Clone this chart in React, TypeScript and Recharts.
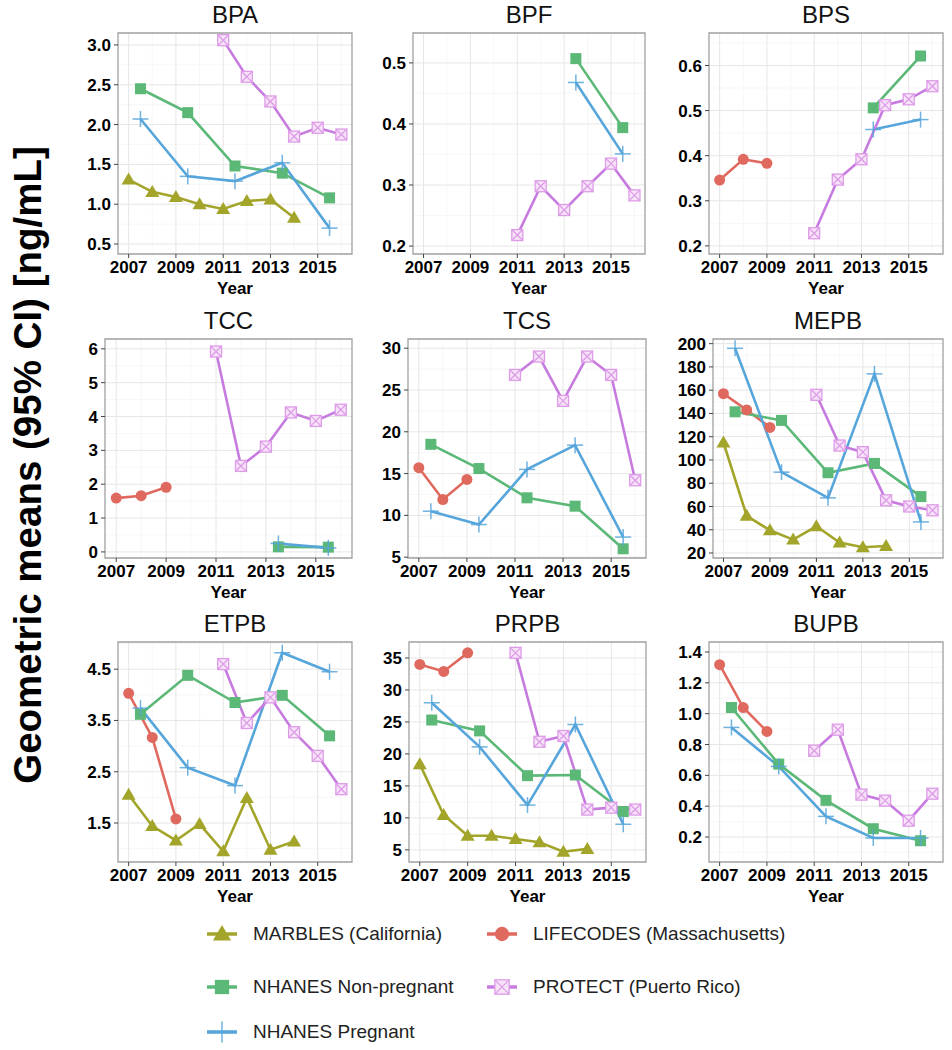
import React from 'react';
import { LineChart, Line, XAxis, YAxis, CartesianGrid, ReferenceArea } from 'recharts';

// x positions for each study
const marblesYears = [2007, 2008, 2009, 2010, 2011, 2012, 2013, 2014];
const lifecodesYears = [2007, 2008, 2009];
const nhanesYears = [2007.5, 2009.5, 2011.5, 2013.5, 2015.5];
const protectYears = [2011, 2012, 2013, 2014, 2015, 2016];

const yearTicks = [2007, 2009, 2011, 2013, 2015];
const yearMinor = [2008, 2010, 2012, 2014, 2016];
const xDomain: [number, number] = [2006.55, 2016.45];

// BPA
const bpaMarbles = [1.31, 1.155, 1.09, 1.0, 0.94, 1.04, 1.06, 0.83];
const bpaNhanesNP = [2.45, 2.15, 1.48, 1.39, 1.08];
const bpaNhanesP = [2.07, 1.35, 1.29, 1.52, 0.7];
const bpaProtect = [3.06, 2.6, 2.29, 1.85, 1.96, 1.875];

// BPF
const bpfNhanesNP = [null, null, null, 0.507, 0.394];
const bpfNhanesP = [null, null, null, 0.468, 0.351];
const bpfProtect = [0.218, 0.298, 0.259, 0.298, 0.335, 0.283];

// BPS
const bpsLifecodes = [0.346, 0.392, 0.383];
const bpsNhanesNP = [null, null, null, 0.506, 0.621];
const bpsNhanesP = [null, null, null, 0.458, 0.48];
const bpsProtect = [0.228, 0.347, 0.392, 0.512, 0.525, 0.554];

// TCC
const tccLifecodes = [1.59, 1.66, 1.91];
const tccNhanesNP = [null, null, null, 0.15, 0.14];
const tccNhanesP = [null, null, null, 0.25, 0.12];
const tccProtect = [5.92, 2.54, 3.11, 4.12, 3.87, 4.2];

// TCS
const tcsLifecodes = [15.7, 11.9, 14.3];
const tcsNhanesNP = [18.5, 15.6, 12.1, 11.1, 6.0];
const tcsNhanesP = [10.5, 8.9, 15.5, 18.4, 7.4];
const tcsProtect = [26.8, 29.0, 23.7, 29.0, 26.8, 14.2];

// MEPB
const mepbMarbles = [115, 52, 39.5, 31.5, 43, 29, 25, 26];
const mepbLifecodes = [157, 143, 128];
const mepbNhanesNP = [141.4, 134, 89, 97, 68.5];
const mepbNhanesP = [196, 89.5, 67.4, 174, 46.7];
const mepbProtect = [156, 112.4, 106.7, 65.3, 60, 56.7];

// ETPB
const etpbMarbles = [2.05, 1.44, 1.16, 1.48, 0.95, 1.99, 0.98, 1.14];
const etpbLifecodes = [4.03, 3.17, 1.58];
const etpbNhanesNP = [3.62, 4.38, 3.85, 3.99, 3.2];
const etpbNhanesP = [3.74, 2.58, 2.23, 4.82, 4.45];
const etpbProtect = [4.6, 3.45, 3.95, 3.27, 2.81, 2.16];

// PRPB
const prpbMarbles = [18.4, 10.45, 7.2, 7.2, 6.7, 6.2, 4.7, 5.15];
const prpbLifecodes = [34.0, 32.9, 35.8];
const prpbNhanesNP = [25.3, 23.6, 16.6, 16.7, 11.0];
const prpbNhanesP = [28.0, 21.1, 12.0, 24.6, 9.0];
const prpbProtect = [35.8, 21.9, 22.8, 11.3, 11.6, 11.3];

// BUPB
const bupbLifecodes = [1.318, 1.04, 0.885];
const bupbNhanesNP = [1.04, 0.673, 0.438, 0.254, 0.176];
const bupbNhanesP = [0.911, 0.658, 0.334, 0.194, 0.194];
const bupbProtect = [0.76, 0.896, 0.475, 0.436, 0.306, 0.481];

const studies = {
  marbles: { name: 'MARBLES (California)', color: '#A3A52A', shape: 'triangle' },
  lifecodes: { name: 'LIFECODES (Massachusetts)', color: '#E0695F', shape: 'circle' },
  nhanesNP: { name: 'NHANES Non-pregnant', color: '#5BB877', shape: 'square' },
  nhanesP: { name: 'NHANES Pregnant', color: '#56A5DB', shape: 'plus' },
  protect: { name: 'PROTECT (Puerto Rico)', color: '#C77BDF', shape: 'squarecross' },
};
type StudyKey = keyof typeof studies;
const studyYears: Record<StudyKey, number[]> = {
  marbles: marblesYears,
  lifecodes: lifecodesYears,
  nhanesNP: nhanesYears,
  nhanesP: nhanesYears,
  protect: protectYears,
};

const f1 = (v: number) => v.toFixed(1);
const f0 = (v: number) => String(v);

const panels = [
  { title: 'BPA', domain: [0.375, 3.15], ticks: [0.5, 1, 1.5, 2, 2.5, 3], minor: [0.75, 1.25, 1.75, 2.25, 2.75], fmt: f1,
    series: { marbles: bpaMarbles, nhanesNP: bpaNhanesNP, nhanesP: bpaNhanesP, protect: bpaProtect } },
  { title: 'BPF', domain: [0.187, 0.549], ticks: [0.2, 0.3, 0.4, 0.5], minor: [0.25, 0.35, 0.45], fmt: f1,
    series: { nhanesNP: bpfNhanesNP, nhanesP: bpfNhanesP, protect: bpfProtect } },
  { title: 'BPS', domain: [0.182, 0.672], ticks: [0.2, 0.3, 0.4, 0.5, 0.6], minor: [0.25, 0.35, 0.45, 0.55, 0.65], fmt: f1,
    series: { lifecodes: bpsLifecodes, nhanesNP: bpsNhanesNP, nhanesP: bpsNhanesP, protect: bpsProtect } },
  { title: 'TCC', domain: [-0.18, 6.29], ticks: [0, 1, 2, 3, 4, 5, 6], minor: [0.5, 1.5, 2.5, 3.5, 4.5, 5.5], fmt: f0,
    series: { lifecodes: tccLifecodes, nhanesNP: tccNhanesNP, nhanesP: tccNhanesP, protect: tccProtect } },
  { title: 'TCS', domain: [4.9, 31.1], ticks: [5, 10, 15, 20, 25, 30], minor: [7.5, 12.5, 17.5, 22.5, 27.5], fmt: f0,
    series: { lifecodes: tcsLifecodes, nhanesNP: tcsNhanesNP, nhanesP: tcsNhanesP, protect: tcsProtect } },
  { title: 'MEPB', domain: [15.7, 204], ticks: [20, 40, 60, 80, 100, 120, 140, 160, 180, 200], minor: [30, 50, 70, 90, 110, 130, 150, 170, 190], fmt: f0,
    series: { marbles: mepbMarbles, lifecodes: mepbLifecodes, nhanesNP: mepbNhanesNP, nhanesP: mepbNhanesP, protect: mepbProtect } },
  { title: 'ETPB', domain: [0.74, 5.03], ticks: [1.5, 2.5, 3.5, 4.5], minor: [1, 2, 3, 4, 5], fmt: f1,
    series: { marbles: etpbMarbles, lifecodes: etpbLifecodes, nhanesNP: etpbNhanesNP, nhanesP: etpbNhanesP, protect: etpbProtect } },
  { title: 'PRPB', domain: [3.1, 37.5], ticks: [5, 10, 15, 20, 25, 30, 35], minor: [7.5, 12.5, 17.5, 22.5, 27.5, 32.5], fmt: f0,
    series: { marbles: prpbMarbles, lifecodes: prpbLifecodes, nhanesNP: prpbNhanesNP, nhanesP: prpbNhanesP, protect: prpbProtect } },
  { title: 'BUPB', domain: [0.038, 1.465], ticks: [0.2, 0.4, 0.6, 0.8, 1.0, 1.2, 1.4], minor: [0.1, 0.3, 0.5, 0.7, 0.9, 1.1, 1.3], fmt: f1,
    series: { lifecodes: bupbLifecodes, nhanesNP: bupbNhanesNP, nhanesP: bupbNhanesP, protect: bupbProtect } },
];

// plot-area boxes (left, right, top, bottom) for the 3x3 grid
const boxes = [
  [118, 352, 33, 254], [413, 645, 33, 254], [709, 943, 33, 254],
  [105, 352, 339, 558], [408, 646, 339, 558], [713, 943, 339, 558],
  [118, 352, 642, 862], [409, 646, 642, 862], [709, 943, 642, 862],
];

const FONT = '"Liberation Sans", Arial, Helvetica, sans-serif';
const YW = 64;
const MT = 5;
const MR = 6;
const XH = 50;

const Marker = ({ cx, cy, shape, color, s = 1 }: any) => {
  if (cx == null || cy == null) return null;
  if (shape === 'triangle')
    return <polygon points={`${cx},${cy - 7 * s} ${cx - 7 * s},${cy + 5 * s} ${cx + 7 * s},${cy + 5 * s}`} fill={color} />;
  if (shape === 'circle') return <circle cx={cx} cy={cy} r={5.5 * s} fill={color} />;
  if (shape === 'square') return <rect x={cx - 5.5 * s} y={cy - 5.5 * s} width={11 * s} height={11 * s} fill={color} />;
  if (shape === 'plus')
    return (
      <g stroke={color} strokeWidth={1.5} opacity={0.85}>
        <line x1={cx - 8 * s} y1={cy} x2={cx + 8 * s} y2={cy} />
        <line x1={cx} y1={cy - 8 * s} x2={cx} y2={cy + 8 * s} />
      </g>
    );
  const h = 5.5 * s;
  return (
    <g stroke="#DE9CE8" strokeWidth={1.3}>
      <rect x={cx - h} y={cy - h} width={2 * h} height={2 * h} fill="#F6E3F8" />
      <line x1={cx - h} y1={cy - h} x2={cx + h} y2={cy + h} />
      <line x1={cx - h} y1={cy + h} x2={cx + h} y2={cy - h} />
    </g>
  );
};

const Panel = ({ panel, box }: any) => {
  const [left, right, top, bottom] = box;
  const plotW = right - left;
  const plotH = bottom - top;
  const keys = Object.keys(panel.series) as StudyKey[];
  return (
    <>
      <div style={{ position: 'absolute', left, top: top - 32, width: plotW, textAlign: 'center', fontSize: 24, fontFamily: FONT, color: '#111' }}>
        {panel.title}
      </div>
      <div style={{ position: 'absolute', left: left - YW, top: top - MT }}>
        <LineChart width={YW + plotW + MR} height={MT + plotH + XH} margin={{ top: MT, right: MR, bottom: 0, left: 0 }}>
          <CartesianGrid stroke="#F3F3F3" strokeWidth={0.7} horizontalValues={panel.minor} verticalValues={yearMinor} />
          <CartesianGrid stroke="#E6E6E6" strokeWidth={1} horizontalValues={panel.ticks} verticalValues={yearTicks} />
          <XAxis
            type="number"
            dataKey="x"
            domain={xDomain}
            allowDataOverflow
            ticks={yearTicks}
            interval={0}
            height={XH}
            axisLine={false}
            tickSize={4}
            tickMargin={3}
            tickLine={{ stroke: '#444' }}
            tick={{ fill: '#000', fontSize: 17, fontWeight: 700, fontFamily: FONT }}
            label={{ value: 'Year', position: 'insideBottom', offset: 10, fill: '#000', fontSize: 17, fontWeight: 700, fontFamily: FONT }}
          />
          <YAxis
            type="number"
            domain={panel.domain}
            allowDataOverflow
            ticks={panel.ticks}
            interval={0}
            width={YW}
            axisLine={false}
            tickSize={4}
            tickMargin={3}
            tickLine={{ stroke: '#444' }}
            tickFormatter={panel.fmt}
            tick={{ fill: '#000', fontSize: 17, fontWeight: 700, fontFamily: FONT }}
          />
          <ReferenceArea x1={xDomain[0]} x2={xDomain[1]} y1={panel.domain[0]} y2={panel.domain[1]} fill="none" stroke="#A0A0A0" strokeWidth={1.3} />
          {keys.map((k) => {
            const st = studies[k];
            const data = studyYears[k]
              .map((x, i) => ({ x, y: panel.series[k][i] }))
              .filter((d) => d.y != null);
            return (
              <Line
                key={k}
                data={data}
                dataKey="y"
                type="linear"
                stroke={st.color}
                strokeWidth={2.6}
                dot={(p: any) => <Marker key={`${k}-${p.index}`} cx={p.cx} cy={p.cy} shape={st.shape} color={st.color} />}
                activeDot={false}
                isAnimationActive={false}
              />
            );
          })}
        </LineChart>
      </div>
    </>
  );
};

const legendItems: { key: StudyKey; x: number; y: number }[] = [
  { key: 'marbles', x: 222, y: 934 },
  { key: 'nhanesNP', x: 222, y: 987 },
  { key: 'nhanesP', x: 222, y: 1032 },
  { key: 'lifecodes', x: 502, y: 934 },
  { key: 'protect', x: 502, y: 987 },
];

const LegendKey = ({ k }: { k: StudyKey }) => {
  const st = studies[k];
  return (
    <svg width={40} height={36}>
      <line x1={5} y1={18} x2={35} y2={18} stroke={st.color} strokeWidth={3.5} />
      <Marker cx={20} cy={18} shape={st.shape} color={st.color} s={1.3} />
    </svg>
  );
};

export default function App() {
  return (
    <div style={{ position: 'absolute', left: 0, top: 0, width: 952, height: 1050, background: '#fff', fontFamily: FONT }}>
      <svg style={{ position: 'absolute', left: 0, top: 0 }} width={60} height={1050}>
        <text
          transform="translate(41,465) rotate(-90)"
          textAnchor="middle"
          fontSize={38.5}
          fontWeight={700}
          fontFamily={FONT}
          fill="#000"
        >
          Geometric means (95% CI) [ng/mL]
        </text>
      </svg>
      {panels.map((p, i) => (
        <Panel key={p.title} panel={p} box={boxes[i]} />
      ))}
      {legendItems.map((it) => (
        <React.Fragment key={it.key}>
          <div style={{ position: 'absolute', left: it.x - 20, top: it.y - 18 }}>
            <LegendKey k={it.key} />
          </div>
          <div style={{ position: 'absolute', left: it.x + 31, top: it.y - 12, fontSize: 19, color: '#222', whiteSpace: 'nowrap', lineHeight: '24px' }}>
            {studies[it.key].name}
          </div>
        </React.Fragment>
      ))}
    </div>
  );
}
